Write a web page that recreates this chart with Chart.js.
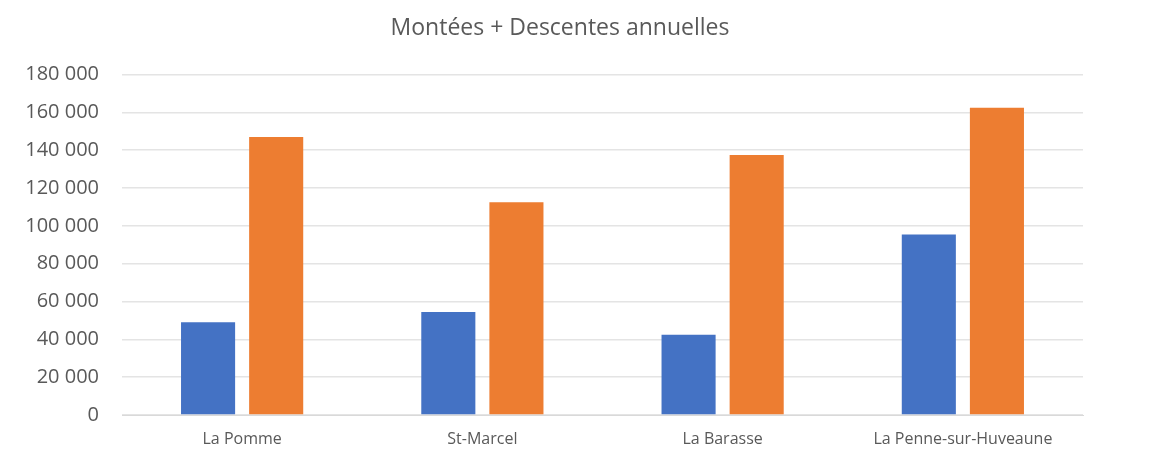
<!DOCTYPE html>
<html>
<head>
<meta charset="utf-8">
<script src="https://cdn.jsdelivr.net/npm/chart.js@4"></script>
<style>
  html, body { margin: 0; padding: 0; background: #fff; }
  #wrap { width: 1156px; height: 450px; }
</style>
</head>
<body>
<div id="wrap"><canvas id="chart"></canvas></div>
<script>
// Station names and yearly boardings + alightings (two series)
const stations = ["La Pomme", "St-Marcel", "La Barasse", "La Penne-sur-Huveaune"];
const serieBleue = [49000, 54500, 42500, 95500];
const serieOrange = [147000, 112500, 137500, 162500];
const yTicks = [0, 20000, 40000, 60000, 80000, 100000, 120000, 140000, 160000, 180000];

// format "180 000"
function fmt(v) {
    return String(v).replace(/\B(?=(\d{3})+(?!\d))/g, " ");
}

// the title sits a bit left of the plot centre, nudge it
const titleShift = {
    id: "titleShift",
    afterLayout: function (chart) {
        if (chart.titleBlock) chart.titleBlock.left += 27;
    }
};

const ctx = document.getElementById("chart").getContext("2d");
new Chart(ctx, {
    type: "bar",
    data: {
        labels: stations,
        datasets: [{
            label: "Série 1",
            data: serieBleue,
            backgroundColor: "#4472c4",
            barPercentage: 0.794,
            categoryPercentage: 0.567
        }, {
            label: "Série 2",
            data: serieOrange,
            backgroundColor: "#ed7d31",
            barPercentage: 0.794,
            categoryPercentage: 0.567
        }]
    },
    options: {
        responsive: true,
        maintainAspectRatio: false,
        animation: false,
        layout: { padding: { left: 10, right: 73, top: 4, bottom: 0 } },
        plugins: {
            legend: { display: false },
            tooltip: { enabled: false },
            title: {
                display: true,
                text: "Montées + Descentes annuelles",
                color: "#595959",
                font: { family: "Open Sans", size: 23, weight: "normal" },
                padding: { top: 11, bottom: 32 }
            }
        },
        scales: {
            x: {
                afterFit: function (scale) { scale.height = 32.5; },
                grid: { display: false },
                border: { color: "#d9d9d9" },
                ticks: {
                    color: "#595959",
                    font: { family: "Open Sans", size: 16, lineHeight: 1 },
                    padding: 8.5
                }
            },
            y: {
                min: 0,
                max: 180000,
                afterFit: function (scale) { scale.width = 112; },
                afterBuildTicks: function (scale) {
                    scale.ticks = yTicks.map(v => ({ value: v }));
                },
                grid: { color: "#e4e4e4", drawTicks: false, lineWidth: 1.5 },
                border: { display: false },
                ticks: {
                    color: "#595959",
                    font: { family: "Open Sans", size: 20 },
                    padding: 23,
                    callback: function (v) { return fmt(v); }
                }
            }
        }
    },
    plugins: [titleShift]
});
</script>
</body>
</html>
